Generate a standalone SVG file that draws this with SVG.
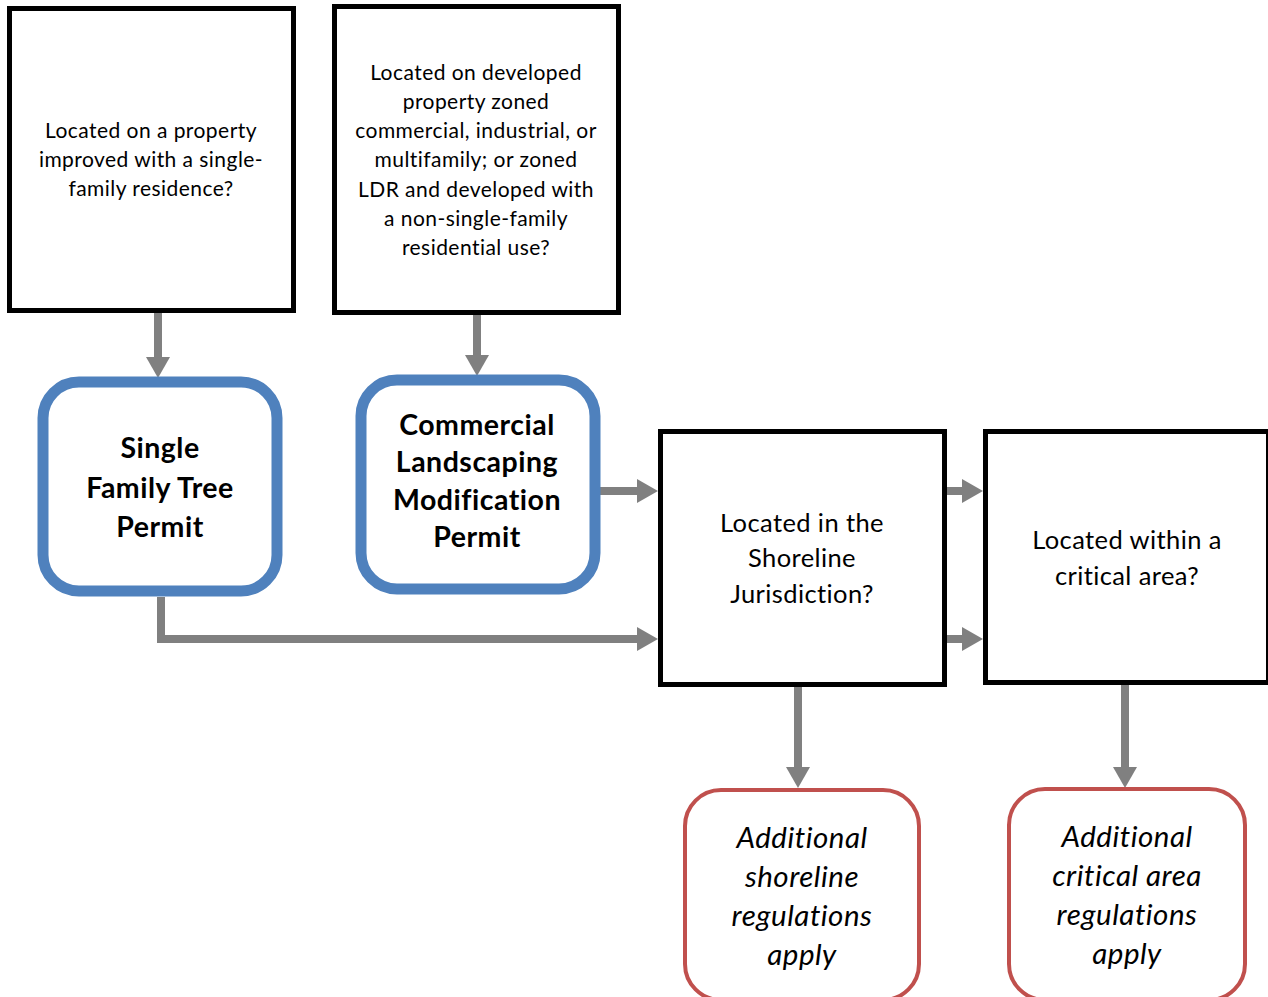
<svg xmlns="http://www.w3.org/2000/svg" width="1268" height="997" viewBox="0 0 1268 997">
<style>
.q{fill:#fff;stroke:#000;stroke-width:5}
.p{fill:#fff;stroke:#4F81BD;stroke-width:11}
.r{fill:#fff;stroke:#C0504D;stroke-width:4}
.c{fill:none;stroke:#808080;stroke-width:8;stroke-linejoin:miter}
text{font-family:Lato,"Open Sans",sans-serif;fill:#000;text-anchor:middle}
.s{font-size:21px;letter-spacing:0.45px}
.m{font-size:25.5px;letter-spacing:0.4px}
.b{font-size:28.5px;font-weight:bold;letter-spacing:0.5px}
.i{font-size:29.5px;font-style:italic;letter-spacing:0.5px}
</style>
<defs>
<marker id="ah" markerUnits="userSpaceOnUse" markerWidth="21" markerHeight="24" refX="0" refY="12" orient="auto" overflow="visible">
<path d="M0,0 L21,12 L0,24 z" fill="#808080"/>
</marker>
</defs>
<g id="connectors">
<line class="c" x1="158" y1="313" x2="158" y2="357" marker-end="url(#ah)"/>
<line class="c" x1="477" y1="315" x2="477" y2="355" marker-end="url(#ah)"/>
<line class="c" x1="600" y1="491" x2="637" y2="491" marker-end="url(#ah)"/>
<path class="c" d="M161,597 V639 H637" marker-end="url(#ah)"/>
<line class="c" x1="947" y1="491" x2="962" y2="491" marker-end="url(#ah)"/>
<line class="c" x1="947" y1="639" x2="962" y2="639" marker-end="url(#ah)"/>
<line class="c" x1="798" y1="687" x2="798" y2="767" marker-end="url(#ah)"/>
<line class="c" x1="1125" y1="683" x2="1125" y2="767" marker-end="url(#ah)"/>
</g>
<g id="q-sfr">
<rect class="q" x="9.5" y="8.5" width="284" height="302"/>
<text class="s"><tspan x="151" y="138">Located on a property</tspan><tspan x="151" y="167">improved with a single-</tspan><tspan x="151" y="196">family residence?</tspan></text>
</g>
<g id="q-com">
<rect class="q" x="334.5" y="6.5" width="284" height="306"/>
<text class="s"><tspan x="476" y="80">Located on developed</tspan><tspan x="476" y="109">property zoned</tspan><tspan x="476" y="138">commercial, industrial, or</tspan><tspan x="476" y="167">multifamily; or zoned</tspan><tspan x="476" y="197">LDR and developed with</tspan><tspan x="476" y="226">a non-single-family</tspan><tspan x="476" y="255">residential use?</tspan></text>
</g>
<g id="p-sft">
<rect class="p" x="43" y="382" width="234" height="209" rx="36"/>
<text class="b"><tspan x="160" y="458">Single</tspan><tspan x="160" y="498">Family Tree</tspan><tspan x="160" y="537">Permit</tspan></text>
</g>
<g id="p-clm">
<rect class="p" x="361" y="380" width="234" height="209" rx="36"/>
<text class="b"><tspan x="477" y="435">Commercial</tspan><tspan x="477" y="472">Landscaping</tspan><tspan x="477" y="510">Modification</tspan><tspan x="477" y="547">Permit</tspan></text>
</g>
<g id="q-shore">
<rect class="q" x="660.5" y="431.5" width="284" height="253"/>
<text class="m"><tspan x="802" y="532">Located in the</tspan><tspan x="802" y="567">Shoreline</tspan><tspan x="802" y="603">Jurisdiction?</tspan></text>
</g>
<g id="q-crit">
<rect class="q" x="985.5" y="431.5" width="283" height="251"/>
<text class="m"><tspan x="1127" y="549">Located within a</tspan><tspan x="1127" y="585">critical area?</tspan></text>
</g>
<g id="r-shore">
<rect class="r" x="685" y="790" width="234" height="210" rx="36"/>
<text class="i"><tspan x="802" y="848">Additional</tspan><tspan x="802" y="887">shoreline</tspan><tspan x="802" y="926">regulations</tspan><tspan x="802" y="965">apply</tspan></text>
</g>
<g id="r-crit">
<rect class="r" x="1009" y="789" width="236" height="211" rx="36"/>
<text class="i"><tspan x="1127" y="847">Additional</tspan><tspan x="1127" y="886">critical area</tspan><tspan x="1127" y="925">regulations</tspan><tspan x="1127" y="964">apply</tspan></text>
</g>
</svg>
